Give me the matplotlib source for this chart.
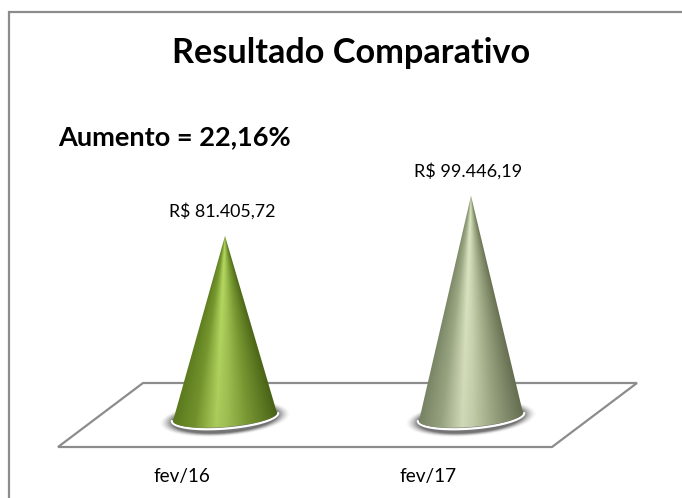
import numpy as np
import matplotlib
matplotlib.use('Agg')
import matplotlib.pyplot as plt
from matplotlib.patches import Polygon
from matplotlib.colors import LinearSegmentedColormap
import matplotlib.transforms as mtransforms

# ---------------- data ----------------
categories = ['fev/16', 'fev/17']
values = [81405.72, 99446.19]
value_labels = ['R$ 81.405,72', 'R$ 99.446,19']
title_text = 'Resultado Comparativo'
note_text = 'Aumento = 22,16%'

# ---------------- style ----------------
W, H = 682, 498
FONT = ['Lato', 'DejaVu Sans']
plt.rcParams['font.family'] = FONT
GRAY = '#8c8c8c'

cone_stops = [
    [(0.0, '#5f801f'), (0.22, '#7a9c30'), (0.42, '#b8dc62'), (0.52, '#a9cc58'),
     (0.72, '#7fa035'), (1.0, '#4e6a18')],
    [(0.0, '#7d8a68'), (0.22, '#a2ae89'), (0.42, '#dfe9c6'), (0.52, '#d0dbb5'),
     (0.72, '#a3ae89'), (1.0, '#6c7656')],
]

fig = plt.figure(figsize=(W / 100, H / 100), dpi=100)
fig.patch.set_facecolor('white')

# background layer in pixel coordinates (frame, floor, titles)
bg = fig.add_axes([0, 0, 1, 1])
bg.set_xlim(0, W)
bg.set_ylim(H, 0)
bg.axis('off')
bg.plot([9, 9, W + 5], [H + 5, 12, 12], color=GRAY, lw=1.6,
        solid_joinstyle='miter', zorder=1)
floor = Polygon([[143, 383], [637, 383], [552, 447], [58, 447]], closed=True,
                fc='white', ec=GRAY, lw=1.6, zorder=1)
bg.add_patch(floor)

# data layer
ax = fig.add_axes([0, 0, 1, 1])
ax.patch.set_alpha(0)
ax.axis('off')
XPX, PX0 = 246.0, 225.0          # px per category, px of first category
YPX = 181.0 / 81405.72           # px per value unit
BASE_PX = 417.0                  # px (from top) of value 0
xlim = (-PX0 / XPX, (W - PX0) / XPX)
ylim = (-(H - BASE_PX) / YPX, BASE_PX / YPX)

a = 52.0 / XPX      # base half width (x units)
b = 10.0 / YPX      # base half height (value units)
s = 4.0 / YPX       # perspective shear of the base
px_x = 1.0 / XPX
px_y = 1.0 / YPX


def arc(cx, aa, bb, ss, t0, t1, n=120, dy=0.0):
    t = np.linspace(t0, t1, n)
    return np.column_stack([cx + aa * np.cos(t), bb * np.sin(t) + ss * np.cos(t) + dy])


for i, v in enumerate(values):
    cx = i
    # soft shadow on the floor (smooth alpha image)
    ex, ey = 14.0, 8.0
    sx0, sx1 = cx - a - (ex + 2) * px_x, cx + a + (ex + 2) * px_x
    sy0, sy1 = -(b + s) - (ey + 4) * px_y, (b + s) + (ey + 4) * px_y
    SX, SY = np.meshgrid(np.linspace(sx0, sx1, 200), np.linspace(sy0, sy1, 120))
    dxp = (SX - cx) * XPX
    dyp = SY * YPX
    # remove shear (y offset proportional to x offset)
    dyp = dyp - 4.0 * (dxp / 52.0) + 1.5
    r = np.sqrt((dxp / (52.0 + ex)) ** 2 + (dyp / (10.0 + ey)) ** 2)
    r0 = 0.80
    alpha = np.clip((1 - r) / (1 - r0), 0, 1) ** 1.6 * 0.78
    shadow = np.zeros(SX.shape + (4,))
    shadow[..., :3] = 0.30
    shadow[..., 3] = alpha
    ax.imshow(shadow, extent=[sx0, sx1, sy0, sy1], origin='lower', aspect='auto',
              interpolation='bilinear', zorder=2)
    # white rim
    rim = arc(cx, a + 1.2 * px_x, b + 1.6 * px_y, s, np.pi, 2 * np.pi)
    ax.plot(rim[:, 0], rim[:, 1], color='white', lw=1.6, zorder=3,
            solid_capstyle='round')
    # cone body
    base = arc(cx, a, b, s, np.pi, 2 * np.pi)
    pts = np.vstack([[cx, v], base])
    poly = Polygon(pts, closed=True, fc='none', ec='none', zorder=4)
    ax.add_patch(poly)
    cmap = LinearSegmentedColormap.from_list('c%d' % i, cone_stops[i])
    x0, x1 = cx - a * 1.05, cx + a * 1.05
    y0, y1 = -(b + s) * 1.1, v
    X, Y = np.meshgrid(np.linspace(x0, x1, 300), np.linspace(y0, y1, 500))
    frac = np.maximum((v - Y) / v, 1e-3)
    u = np.clip((X - cx) / (a * frac), -1, 1)
    rgb = cmap((u + 1) / 2)
    shade = 1 - 0.07 * np.clip(1 - (Y / v), 0, 1.2)
    rgb[..., :3] *= shade[..., None]
    im = ax.imshow(rgb, extent=[x0, x1, y0, y1], origin='lower', aspect='auto',
                   interpolation='bilinear', zorder=4)
    im.set_clip_path(poly)

ax.set_xlim(*xlim)
ax.set_ylim(*ylim)

# ---------------- texts ----------------
def fit(t, target):
    for _ in range(3):
        fig.canvas.draw()
        w = t.get_window_extent().width
        t.set_fontsize(t.get_fontsize() * target / w)

title = bg.text(351, 63, title_text, ha='center', va='baseline',
                fontsize=20, fontweight='bold', color='black')
note = bg.text(58, 145, note_text, ha='left', va='baseline',
               fontsize=16, fontweight='bold', color='black')

lbls = []
for i, (v, lab) in enumerate(zip(values, value_labels)):
    tr = mtransforms.offset_copy(ax.transData, fig=fig, x=-3, y=19.5, units='dots')
    t = ax.text(i, v, lab, ha='center', va='baseline', fontsize=11,
                color='black', transform=tr, zorder=6)
    lbls.append(t)

cats = []
for i, c in enumerate(categories):
    tr = mtransforms.offset_copy(ax.transData, fig=fig, x=-43, y=-65, units='dots')
    t = ax.text(i, 0, c, ha='center', va='baseline', fontsize=11,
                color='black', transform=tr, zorder=6)
    cats.append(t)

fit(title, 358)
fit(note, 232)
for t in lbls:
    fit(t, 107)
for t in cats:
    fit(t, 57)

fig.savefig('out.png', dpi=100, facecolor='white')
